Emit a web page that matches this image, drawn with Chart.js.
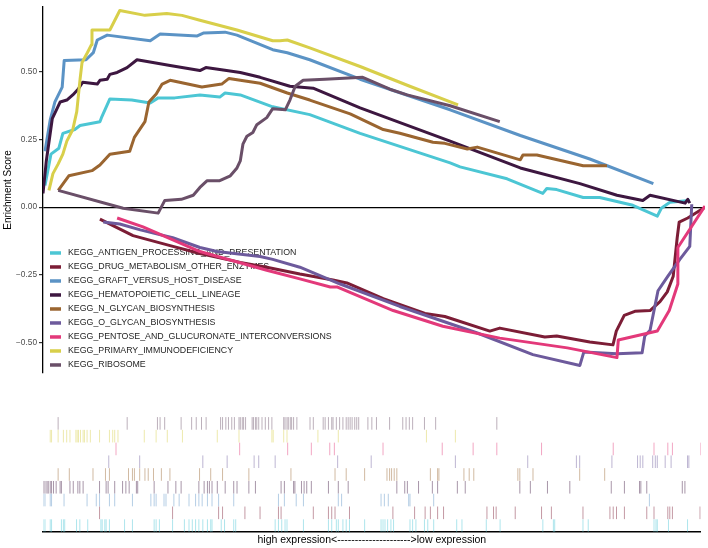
<!DOCTYPE html>
<html>
<head>
<meta charset="utf-8">
<script src="https://cdn.jsdelivr.net/npm/chart.js@4.4.1/dist/chart.umd.min.js"></script>
<style>
  html, body { margin: 0; padding: 0; background: #fff; }
  #wrap { width: 708px; height: 548px; position: relative; }
  #esBox { position: absolute; left: 0; top: 0; width: 708px; height: 380px; }
  #rugBox { position: absolute; left: 0; top: 380px; width: 708px; height: 168px; }
</style>
</head>
<body>
<div id="wrap">
  <div id="esBox"><canvas id="esChart"></canvas></div>
  <div id="rugBox"><canvas id="rugChart"></canvas></div>
</div>
<script>
// Gene sets (legend order)
const setNames = [
    'KEGG_ANTIGEN_PROCESSING_AND_PRESENTATION',
    'KEGG_DRUG_METABOLISM_OTHER_ENZYMES',
    'KEGG_GRAFT_VERSUS_HOST_DISEASE',
    'KEGG_HEMATOPOIETIC_CELL_LINEAGE',
    'KEGG_N_GLYCAN_BIOSYNTHESIS',
    'KEGG_O_GLYCAN_BIOSYNTHESIS',
    'KEGG_PENTOSE_AND_GLUCURONATE_INTERCONVERSIONS',
    'KEGG_PRIMARY_IMMUNODEFICIENCY',
    'KEGG_RIBOSOME'
];
const setColors = ['#4cc6d4', '#7c1d36', '#5b93c5', '#3d1740', '#9a6530', '#6d5a9c', '#e3397a', '#d8cf4a', '#6a4f68'];

// Running enrichment score: [rank, ES] (rank 0..1000 along the ordered gene list)
const esAntigen = [[3,0.080],[12,0.196],[24,0.218],[30,0.273],[48,0.287],[56,0.302],[86,0.316],[89,0.335],[101,0.400],[134,0.396],[162,0.385],[174,0.404],[199,0.404],[237,0.415],[267,0.407],[275,0.422],[298,0.415],[347,0.371],[403,0.342],[479,0.273],[615,0.164],[630,0.149],[701,0.105],[755,0.051],[761,0.069],[776,0.065],[816,0.036],[841,0.036],[891,0.007],[928,-0.033],[934,-0.004],[947,0.018],[977,0.025]];
const esDrug = [[86,-0.044],[136,-0.105],[192,-0.142],[237,-0.171],[298,-0.204],[338,-0.222],[388,-0.247],[438,-0.269],[459,-0.280],[514,-0.338],[577,-0.393],[607,-0.404],[675,-0.458],[690,-0.447],[758,-0.480],[776,-0.476],[826,-0.498],[861,-0.509],[866,-0.458],[878,-0.400],[894,-0.385],[917,-0.382],[932,-0.349],[943,-0.313],[952,-0.255],[958,-0.113],[961,-0.055],[974,-0.040],[1000,0.000]];
const esGraft = [[3,0.207],[11,0.324],[18,0.389],[29,0.444],[32,0.542],[65,0.545],[76,0.571],[82,0.618],[97,0.636],[162,0.615],[177,0.640],[233,0.633],[243,0.644],[275,0.647],[293,0.636],[347,0.582],[369,0.571],[403,0.545],[479,0.473],[615,0.360],[721,0.265],[826,0.178],[922,0.087]];
const esHemato = [[0,0.051],[5,0.171],[14,0.327],[26,0.389],[36,0.396],[45,0.415],[53,0.436],[60,0.462],[82,0.455],[86,0.469],[97,0.473],[101,0.491],[112,0.498],[127,0.516],[142,0.545],[166,0.535],[192,0.524],[237,0.505],[246,0.516],[267,0.509],[298,0.498],[328,0.480],[373,0.447],[408,0.440],[479,0.367],[615,0.244],[721,0.145],[811,0.087],[867,0.044],[906,0.025],[917,0.044],[970,0.015],[974,0.029],[977,0.015]];
const esNGlycan = [[23,0.062],[39,0.116],[74,0.135],[86,0.156],[101,0.196],[131,0.207],[138,0.258],[154,0.316],[160,0.389],[171,0.418],[180,0.455],[192,0.469],[240,0.444],[270,0.455],[281,0.476],[298,0.469],[328,0.458],[369,0.422],[403,0.396],[464,0.345],[514,0.287],[539,0.273],[589,0.240],[607,0.236],[641,0.215],[656,0.222],[721,0.175],[725,0.193],[746,0.193],[816,0.153],[852,0.153]];
const esOGlycan = [[91,-0.055],[116,-0.062],[147,-0.084],[196,-0.113],[237,-0.149],[263,-0.164],[328,-0.182],[347,-0.193],[388,-0.222],[449,-0.284],[539,-0.367],[656,-0.465],[740,-0.545],[811,-0.585],[817,-0.535],[867,-0.542],[905,-0.538],[909,-0.476],[917,-0.455],[929,-0.309],[944,-0.255],[962,-0.193],[977,-0.145],[980,0.011]];
const esPentose = [[112,-0.040],[151,-0.073],[237,-0.164],[338,-0.233],[388,-0.265],[434,-0.295],[444,-0.295],[529,-0.382],[604,-0.440],[690,-0.484],[792,-0.520],[867,-0.556],[869,-0.491],[928,-0.458],[946,-0.382],[959,-0.284],[959,-0.149],[1000,0.004]];
const esPrimary = [[9,0.062],[15,0.124],[23,0.160],[30,0.196],[36,0.244],[45,0.287],[51,0.353],[56,0.473],[59,0.535],[67,0.571],[73,0.600],[74,0.655],[101,0.655],[116,0.727],[154,0.709],[187,0.716],[210,0.709],[237,0.691],[293,0.655],[347,0.615],[358,0.615],[369,0.618],[403,0.589],[479,0.520],[554,0.447],[627,0.378]];
const esRibosome = [[23,0.062],[121,-0.004],[174,-0.022],[184,0.025],[209,0.029],[227,0.044],[237,0.073],[248,0.098],[267,0.098],[283,0.116],[293,0.145],[298,0.171],[302,0.233],[308,0.262],[317,0.276],[323,0.305],[338,0.331],[347,0.364],[366,0.360],[373,0.396],[381,0.447],[393,0.469],[426,0.473],[483,0.480],[524,0.436],[550,0.415],[615,0.375],[690,0.316]];
const runningScores = [esAntigen, esDrug, esGraft, esHemato, esNGlycan, esOGlycan, esPentose, esPrimary, esRibosome];

// Positions of the set's genes in the ranked list (rug)
const hitsAntigen = [0,3,11,13,28,31,33,51,56,68,88,90,94,96,101,124,136,169,172,177,197,215,222,227,232,237,243,250,255,257,271,276,290,293,353,358,363,368,371,396,434,439,446,449,456,461,466,489,514,517,520,524,529,533,558,562,567,580,585,594,629,637,674,695,760,776,778,821,829,929,932,934,951,980];
const hitsDrug = [86,197,267,273,307,330,358,362,411,434,439,444,466,532,565,581,589,600,609,675,685,689,718,758,773,821,862,867,872,884,918,929,950,953,957,999];
const hitsGraft = [0,3,11,13,32,67,81,86,101,109,136,164,169,172,184,187,199,207,222,232,237,242,250,257,267,290,358,367,385,396,449,454,514,519,525,556,558,594,922];
const hitsHemato = [0,3,6,8,11,13,16,20,26,28,41,46,53,56,61,86,96,99,109,121,126,131,142,144,169,190,202,210,237,245,250,253,257,265,277,290,295,313,323,362,367,381,383,393,397,401,408,434,449,464,538,550,554,571,592,600,630,642,725,741,767,801,864,884,907,909,918,972,976];
const hitsNGlycan = [23,40,76,95,101,130,136,139,147,155,160,168,180,193,238,255,273,313,377,444,461,489,523,527,530,534,538,589,600,602,640,648,655,722,725,745,816,854];
const hitsOGlycan = [100,147,243,280,321,328,353,448,499,627,737,811,816,865,904,908,912,927,931,934,946,955,980,982];
const hitsPentose = [111,299,372,408,436,443,517,607,654,690,758,867,929,950,957,1000];
const hitsPrimary = [11,13,23,31,36,41,50,52,54,57,61,63,67,72,86,101,106,109,114,154,172,189,212,265,298,348,350,366,371,418,449,583,627];
const hitsRibosome = [23,128,174,178,185,210,226,233,241,248,270,273,278,282,287,291,298,300,303,305,308,318,320,323,325,328,333,338,343,348,366,368,371,373,376,378,381,386,406,411,426,429,434,439,441,446,451,456,461,464,467,470,474,477,480,494,500,507,527,547,552,557,562,580,597,690];
const geneHits = [hitsAntigen, hitsDrug, hitsGraft, hitsHemato, hitsNGlycan, hitsOGlycan, hitsPentose, hitsPrimary, hitsRibosome];

const yTicks = [-0.5, -0.25, 0, 0.25, 0.5];
const axisTitle = 'Enrichment Score';
const rankLabel = 'high expression<--------------------->low expression';

const FONT = '"Liberation Sans", Arial, Helvetica, sans-serif';
Chart.defaults.font.family = FONT;

function hexToRgba(hex, a) {
    const n = parseInt(hex.slice(1), 16);
    return 'rgba(' + (n >> 16) + ',' + ((n >> 8) & 255) + ',' + (n & 255) + ',' + a + ')';
}

// Legend drawn inside the plot, under the curves
const legendInside = {
    id: 'legendInside',
    beforeDatasetsDraw(chart) {
        const { ctx, chartArea } = chart;
        ctx.save();
        ctx.font = '8.8px ' + FONT;
        ctx.textBaseline = 'middle';
        chart.data.datasets.forEach((ds, i) => {
            const y = chartArea.top + 246 + i * 14;
            ctx.strokeStyle = ds.borderColor;
            ctx.lineWidth = 3.5;
            ctx.beginPath();
            ctx.moveTo(chartArea.left + 7, y);
            ctx.lineTo(chartArea.left + 18, y);
            ctx.stroke();
            ctx.fillStyle = '#262626';
            ctx.fillText(ds.label, chartArea.left + 25, y);
        });
        ctx.restore();
    }
};

// Running score panel
new Chart(document.getElementById('esChart'), {
    type: 'line',
    data: {
        datasets: setNames.map((name, i) => ({
            label: name,
            data: runningScores[i].map(p => ({ x: p[0], y: p[1] })),
            borderColor: setColors[i],
            borderWidth: 3,
            borderJoinStyle: 'round',
            pointRadius: 0,
            fill: false,
            tension: 0,
            order: setNames.length - 1 - i
        }))
    },
    options: {
        responsive: true,
        maintainAspectRatio: false,
        animation: false,
        devicePixelRatio: 1,
        events: [],
        layout: { padding: { top: 3, right: 3, bottom: 5, left: 0 } },
        plugins: { legend: { display: false }, tooltip: { enabled: false } },
        scales: {
            x: { type: 'linear', display: false, min: 0, max: 1000 },
            y: {
                min: -0.613,
                max: 0.74,
                afterFit: s => { s.width = 43; },
                afterBuildTicks: s => { s.ticks = yTicks.map(v => ({ value: v })); },
                ticks: {
                    callback: v => v.toFixed(2).replace('-', '\u2212'),
                    font: { size: 8.3 },
                    color: '#4d4d4d',
                    padding: 2
                },
                grid: {
                    drawOnChartArea: true,
                    color: c => (c.tick && c.tick.value === 0) ? '#000' : 'rgba(0,0,0,0)',
                    tickColor: '#333',
                    tickLength: 4,
                    lineWidth: 1.2
                },
                border: { color: '#000', width: 1.3 },
                title: {
                    display: true,
                    text: axisTitle,
                    font: { size: 10 },
                    color: '#000',
                    padding: { top: 2, bottom: 0 }
                }
            }
        }
    },
    plugins: [legendInside]
});

// Gene hit rug panel (bottom row = first set)
new Chart(document.getElementById('rugChart'), {
    type: 'scatter',
    data: {
        datasets: setNames.map((name, i) => ({
            label: name,
            data: geneHits[i].map(r => ({ x: r, y: i + 0.5 })),
            pointStyle: 'line',
            pointRotation: 90,
            pointRadius: 6.3,
            pointBorderWidth: 1,
            pointBorderColor: hexToRgba(setColors[i], 0.45),
            pointBackgroundColor: hexToRgba(setColors[i], 0.45)
        }))
    },
    options: {
        responsive: true,
        maintainAspectRatio: false,
        animation: false,
        devicePixelRatio: 1,
        events: [],
        layout: { padding: { top: 37, right: 3, bottom: 1.4, left: 43 } },
        plugins: { legend: { display: false }, tooltip: { enabled: false } },
        scales: {
            x: {
                type: 'linear',
                min: 0,
                max: 1000,
                grid: { display: false, drawTicks: false },
                ticks: { display: false },
                border: { display: true, color: '#000', width: 1.5 },
                title: {
                    display: true,
                    text: rankLabel,
                    font: { size: 10.5 },
                    color: '#000',
                    padding: { top: 2, bottom: 0 }
                }
            },
            y: { display: false, min: 0, max: 9 }
        }
    }
});
</script>
</body>
</html>
